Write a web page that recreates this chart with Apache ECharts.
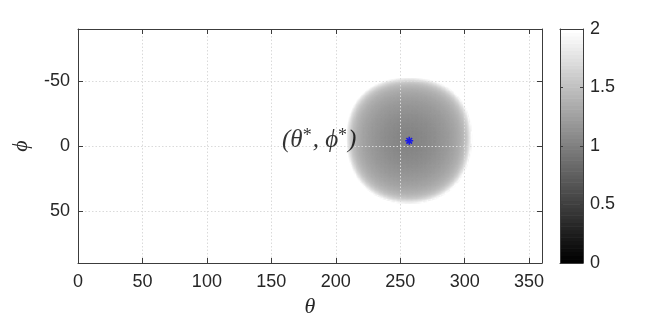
<!DOCTYPE html>
<html>
<head>
<meta charset="utf-8">
<script src="https://cdn.jsdelivr.net/npm/echarts@6/dist/echarts.min.js"></script>
<style>
html,body{margin:0;padding:0;background:#fff;}
#chart{width:664px;height:315px;}
</style>
</head>
<body>
<div id="chart"></div>
<script>
// ---- data ----
const thetaTicks = [0, 50, 100, 150, 200, 250, 300, 350];
const phiTicks = [-50, 0, 50];
const colorbarTicks = [0, 0.5, 1, 1.5, 2];
const starPoint = [257, -4];          // (theta*, phi*)
const labelAnchor = [216, -4];        // right end of the "(θ*, ϕ*)" text
const capRadius = 48.5;               // angular radius of the shaded region (deg)
const profileDist = [0, 10, 20, 30, 36, 40, 43, 45, 47, 48.5];      // angular distance from (θ*,ϕ*)
const profileValue = [1.03, 1.06, 1.12, 1.21, 1.29, 1.37, 1.47, 1.59, 1.78, 2.0];
const colorLevels = 64;

// ---- build field cells (1 deg) from the radial profile ----
const rad = Math.PI / 180;
function lookup(d) {
  for (let i = 1; i < profileDist.length; i++) {
    if (d <= profileDist[i]) {
      const t = (d - profileDist[i - 1]) / (profileDist[i] - profileDist[i - 1]);
      return profileValue[i - 1] + t * (profileValue[i] - profileValue[i - 1]);
    }
  }
  return profileValue[profileValue.length - 1];
}
const fieldData = [];
for (let th = 195; th < 320; th++) {
  for (let ph = -65; ph < 60; ph++) {
    const tc = th + 0.5, pc = ph + 0.5;
    const c = Math.sin(pc * rad) * Math.sin(starPoint[1] * rad) +
      Math.cos(pc * rad) * Math.cos(starPoint[1] * rad) * Math.cos((tc - starPoint[0]) * rad);
    const d = Math.acos(Math.max(-1, Math.min(1, c))) / rad;
    if (d < capRadius) fieldData.push([tc, pc, lookup(d)]);
  }
}
const colorbarData = [];
for (let k = 0; k < colorLevels; k++) {
  const lo = 2 * k / colorLevels, hi = 2 * (k + 1) / colorLevels;
  colorbarData.push([lo, hi, 2 * k / (colorLevels - 1)]);
}

const axisColor = '#262626';
const lineColor = '#3c3c3c';
const gridLine = { show: true, lineStyle: { color: '#dadada', type: [1.5, 2], width: 1 } };
const tickFont = { fontFamily: 'Liberation Sans', fontSize: 18, color: axisColor };

const chart = echarts.init(document.getElementById('chart'), null, { renderer: 'canvas' });
chart.setOption({
  animation: false,
  backgroundColor: '#fff',
  grid: [
    { left: 78, top: 29, width: 464, height: 234, outerBoundsMode: 'none', containLabel: false },
    { left: 560, top: 29, width: 23, height: 234, outerBoundsMode: 'none', containLabel: false }
  ],
  visualMap: {
    show: false, type: 'continuous', min: 0, max: 2, dimension: 2,
    seriesIndex: [0, 1], inRange: { color: ['#000000', '#ffffff'] }
  },
  xAxis: [
    { gridIndex: 0, type: 'value', min: 0, max: 360, position: 'bottom', z: 5,
      name: 'θ', nameLocation: 'middle', nameGap: 24,
      nameTextStyle: { fontFamily: 'Liberation Serif', fontStyle: 'italic', fontSize: 22, color: axisColor },
      axisLine: { show: true, onZero: false, lineStyle: { color: lineColor } },
      axisTick: { show: true, inside: true, length: 5, customValues: thetaTicks, lineStyle: { color: lineColor } },
      axisLabel: { ...tickFont, margin: 10, customValues: thetaTicks },
      splitLine: gridLine },
    { gridIndex: 0, type: 'value', min: 0, max: 360, position: 'top', z: 5,
      axisLine: { show: true, onZero: false, lineStyle: { color: lineColor } },
      axisTick: { show: true, inside: true, length: 5, customValues: thetaTicks, lineStyle: { color: lineColor } },
      axisLabel: { show: false }, splitLine: { show: false } },
    { gridIndex: 1, type: 'value', min: 0, max: 1, position: 'bottom', z: 5,
      axisLine: { show: true, onZero: false, lineStyle: { color: lineColor } },
      axisTick: { show: false }, axisLabel: { show: false }, splitLine: { show: false } },
    { gridIndex: 1, type: 'value', min: 0, max: 1, position: 'top', z: 5,
      axisLine: { show: true, onZero: false, lineStyle: { color: lineColor } },
      axisTick: { show: false }, axisLabel: { show: false }, splitLine: { show: false } }
  ],
  yAxis: [
    { gridIndex: 0, type: 'value', min: -90, max: 90, inverse: true, position: 'left', z: 5,
      name: 'ϕ', nameLocation: 'middle', nameGap: 46, nameRotate: 90,
      nameTextStyle: { fontFamily: 'Liberation Serif', fontStyle: 'italic', fontSize: 22, color: axisColor },
      axisLine: { show: true, onZero: false, lineStyle: { color: lineColor } },
      axisTick: { show: true, inside: true, length: 5, customValues: phiTicks, lineStyle: { color: lineColor } },
      axisLabel: { ...tickFont, margin: 8, customValues: phiTicks },
      splitLine: gridLine },
    { gridIndex: 0, type: 'value', min: -90, max: 90, inverse: true, position: 'right', z: 5,
      axisLine: { show: true, onZero: false, lineStyle: { color: lineColor } },
      axisTick: { show: true, inside: true, length: 5, customValues: phiTicks, lineStyle: { color: lineColor } },
      axisLabel: { show: false }, splitLine: { show: false } },
    { gridIndex: 1, type: 'value', min: 0, max: 2, position: 'right', z: 5,
      axisLine: { show: true, onZero: false, lineStyle: { color: lineColor } },
      axisTick: { show: true, inside: true, length: 3, customValues: colorbarTicks, lineStyle: { color: lineColor } },
      axisLabel: { ...tickFont, margin: 7, customValues: colorbarTicks },
      splitLine: { show: false } },
    { gridIndex: 1, type: 'value', min: 0, max: 2, position: 'left', z: 5,
      axisLine: { show: true, onZero: false, lineStyle: { color: lineColor } },
      axisTick: { show: true, inside: true, length: 3, customValues: colorbarTicks, lineStyle: { color: lineColor } },
      axisLabel: { show: false }, splitLine: { show: false } }
  ],
  series: [
    { type: 'custom', xAxisIndex: 0, yAxisIndex: 0, z: 2, progressive: 0,
      data: fieldData, encode: { x: 0, y: 1 },
      renderItem: function (params, api) {
        const th = api.value(0), ph = api.value(1);
        const p1 = api.coord([th - 0.5, ph - 0.5]);
        const p2 = api.coord([th + 0.5, ph + 0.5]);
        const x = Math.min(p1[0], p2[0]) - 0.35, y = Math.min(p1[1], p2[1]) - 0.35;
        return { type: 'rect',
          shape: { x: x, y: y, width: Math.abs(p2[0] - p1[0]) + 0.7, height: Math.abs(p2[1] - p1[1]) + 0.7 },
          style: { fill: api.visual('color') } };
      } },
    { type: 'custom', xAxisIndex: 2, yAxisIndex: 2, z: 2, progressive: 0,
      data: colorbarData, encode: { y: [0, 1] },
      renderItem: function (params, api) {
        const lo = api.value(0), hi = api.value(1);
        const p1 = api.coord([0, lo]);
        const p2 = api.coord([1, hi]);
        return { type: 'rect',
          shape: { x: p1[0], y: p2[1] - 0.3, width: p2[0] - p1[0], height: p1[1] - p2[1] + 0.6 },
          style: { fill: api.visual('color') } };
      } },
    { type: 'scatter', xAxisIndex: 0, yAxisIndex: 0, z: 10,
      data: [starPoint],
      symbol: 'path://M0,-1L0,1M-1,0L1,0M-0.7,-0.7L0.7,0.7M-0.7,0.7L0.7,-0.7',
      symbolSize: 8,
      itemStyle: { color: 'rgba(0,0,0,0)', borderColor: '#0000ff', borderWidth: 1.6 } },
    { type: 'scatter', xAxisIndex: 0, yAxisIndex: 0, z: 10,
      data: [labelAnchor], symbolSize: 0, silent: true,
      label: { show: true, position: 'left', distance: 0,
        formatter: '{a|(θ}{s|*}{a|, ϕ}{s|*}{a|)}',
        rich: {
          a: { fontFamily: 'Liberation Serif', fontStyle: 'italic', fontSize: 25, color: '#000', lineHeight: 28 },
          s: { fontFamily: 'Liberation Serif', fontSize: 18, color: '#000', verticalAlign: 'top', lineHeight: 28, padding: [0, 1, 0, 0] }
        } } }
  ]
});
</script>
</body>
</html>
